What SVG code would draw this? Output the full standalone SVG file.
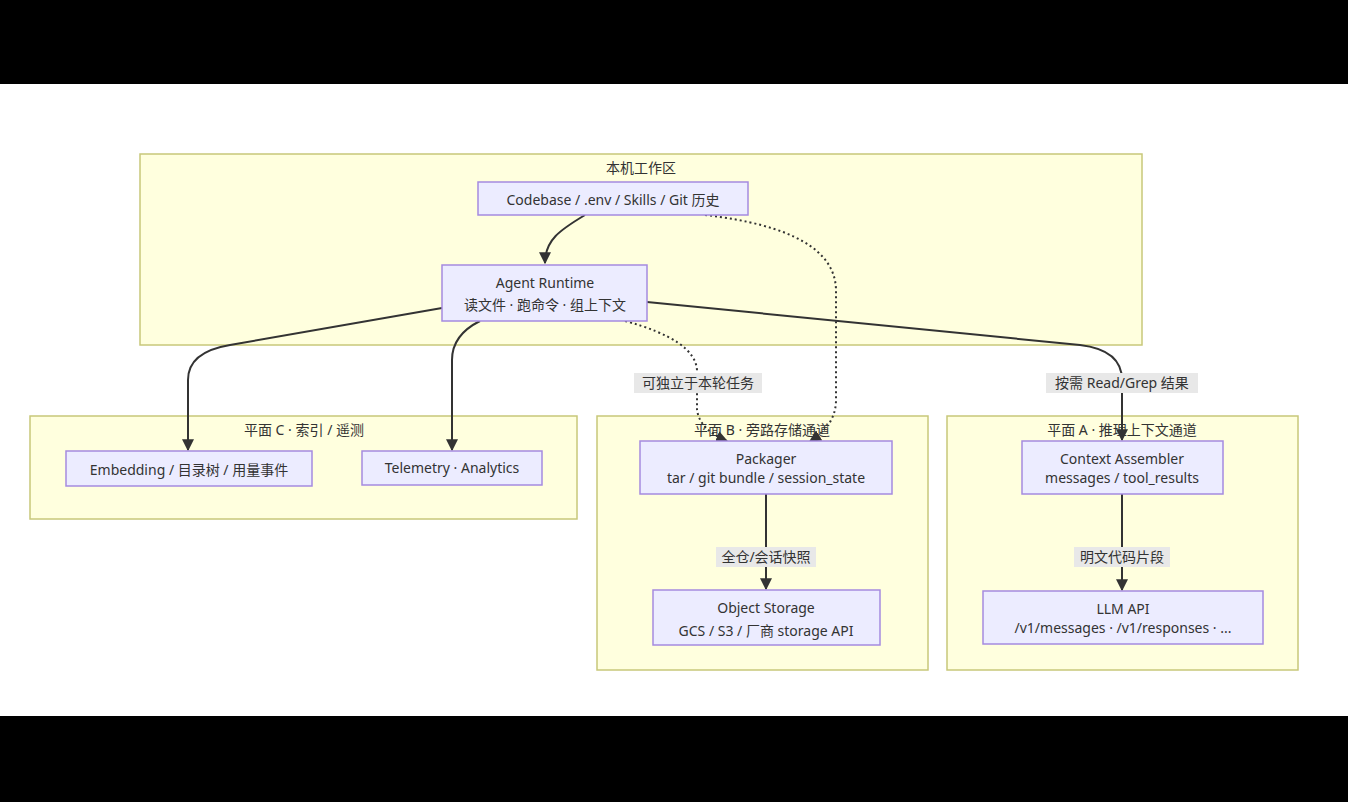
<svg xmlns="http://www.w3.org/2000/svg" width="1348" height="802" viewBox="0 0 1348 802">
<style>
text{font-family:"Noto Sans","Noto Sans CJK SC",sans-serif;font-size:14px;fill:#333;text-anchor:middle}
.cl{fill:#ffffde;stroke:#c8c87a;stroke-width:1.5}
.nd{fill:#ececff;stroke:#a58be0;stroke-width:1.5}
.e{fill:none;stroke:#333;stroke-width:2}
.d{stroke-dasharray:2 3}
.lb{fill:#e8e8e8}
</style>
<defs><marker id="a" viewBox="0 0 10 10" refX="9" refY="5" markerWidth="6" markerHeight="6" orient="auto"><path d="M0,0L10,5L0,10z" fill="#333"/></marker></defs>
<rect width="1348" height="802" fill="#000"/>
<rect y="84" width="1348" height="632" fill="#fff"/>
<g id="clusters">
<rect class="cl" x="140" y="154" width="1002" height="191"/><text x="641" y="173">本机工作区</text>
<rect class="cl" x="30" y="416" width="547" height="103"/><text x="304" y="435">平面 C · 索引 / 遥测</text>
<rect class="cl" x="597" y="416" width="331" height="254"/><text x="762" y="435">平面 B · 旁路存储通道</text>
<rect class="cl" x="947" y="416" width="351" height="254"/><text x="1122" y="435">平面 A · 推理上下文通道</text>
</g>
<g id="connectors">
<path class="e" d="M585,215 C560,230 545,240 545,263" marker-end="url(#a)"/>
<path class="e d" d="M705,215 Q835,230 836,290 L836,400 Q836,425 810,441" marker-end="url(#a)"/>
<path class="e" d="M442,308 L230,345 Q188,352 188,380 L188,450" marker-end="url(#a)"/>
<path class="e" d="M480,321 Q452,335 452,360 L452,450" marker-end="url(#a)"/>
<path class="e d" d="M625,321 Q695,340 697,370 L697,410 Q700,430 727,441" marker-end="url(#a)"/>
<path class="e" d="M647,302 L1080,345 Q1122,350 1122,380 L1122,440" marker-end="url(#a)"/>
<path class="e" d="M766,494 L766,589" marker-end="url(#a)"/>
<path class="e" d="M1122,494 L1122,590" marker-end="url(#a)"/>
<rect class="lb" x="634" y="373" width="128" height="20"/><text x="698" y="388">可独立于本轮任务</text>
<rect class="lb" x="1046" y="373" width="152" height="20"/><text x="1122" y="388">按需 Read/Grep 结果</text>
<rect class="lb" x="716" y="547" width="100" height="20"/><text x="766" y="562">全仓/会话快照</text>
<rect class="lb" x="1074" y="547" width="96" height="20"/><text x="1122" y="562">明文代码片段</text>
</g>
<g id="codebase"><rect class="nd" x="478" y="182" width="270" height="33"/><text x="613" y="205">Codebase / .env / Skills / Git 历史</text></g>
<g id="agent"><rect class="nd" x="442" y="265" width="205" height="56"/><text x="545" y="288">Agent Runtime</text><text x="545" y="310">读文件 · 跑命令 · 组上下文</text></g>
<g id="embedding"><rect class="nd" x="66" y="451" width="246" height="35"/><text x="189" y="475">Embedding / 目录树 / 用量事件</text></g>
<g id="telemetry"><rect class="nd" x="362" y="451" width="180" height="34"/><text x="452" y="473">Telemetry · Analytics</text></g>
<g id="packager"><rect class="nd" x="640" y="441" width="252" height="53"/><text x="766" y="464">Packager</text><text x="766" y="483">tar / git bundle / session_state</text></g>
<g id="storage"><rect class="nd" x="653" y="590" width="227" height="55"/><text x="766" y="613">Object Storage</text><text x="766" y="636">GCS / S3 / 厂商 storage API</text></g>
<g id="assembler"><rect class="nd" x="1022" y="441" width="201" height="53"/><text x="1122" y="464">Context Assembler</text><text x="1122" y="483">messages / tool_results</text></g>
<g id="llm"><rect class="nd" x="983" y="591" width="280" height="53"/><text x="1123" y="614">LLM API</text><text x="1123" y="633">/v1/messages · /v1/responses · ...</text></g>
</svg>
